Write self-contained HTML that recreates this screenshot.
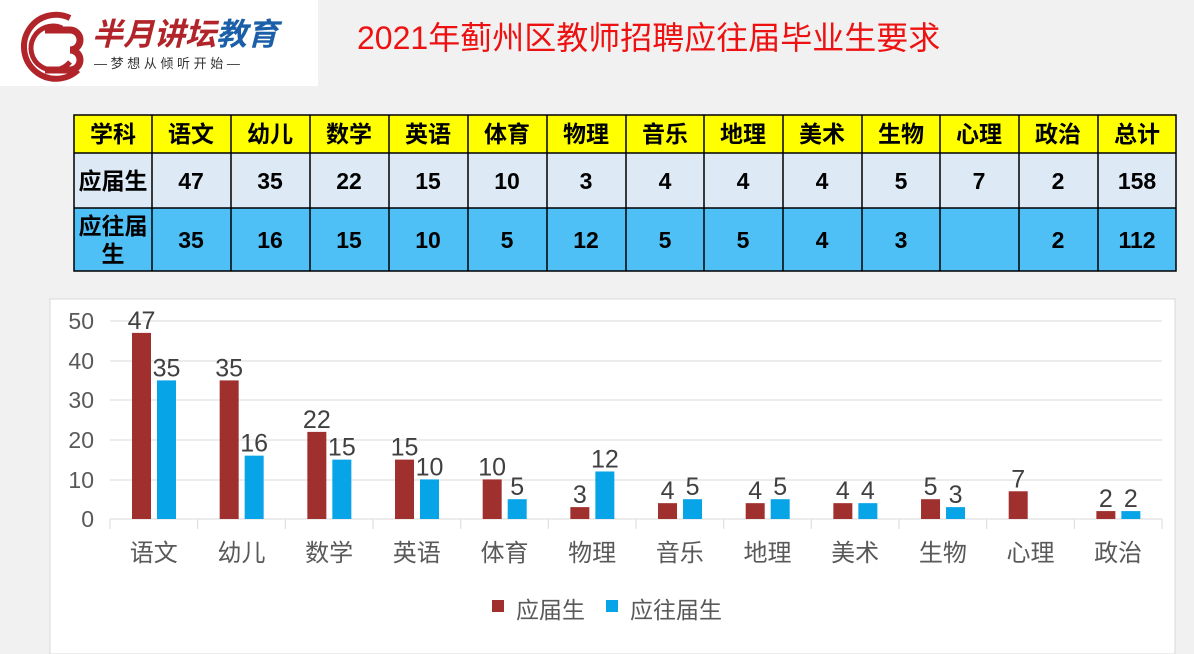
<!DOCTYPE html><html><head><meta charset="utf-8"><style>body{margin:0}svg{display:block}</style></head><body>
<svg width="1194" height="654" xmlns="http://www.w3.org/2000/svg" font-family="Liberation Sans, Noto Sans CJK SC, sans-serif">
<rect width="1194" height="654" fill="#f1f1f1"/>
<rect width="318" height="86" fill="#fff"/>
<g fill="none" stroke="#b0242a" stroke-width="6"><path d="M70 18 A32 32 0 1 0 78 70"/><path d="M62 28 A22 22 0 1 0 70 62" stroke-width="5"/></g>
<path d="M45 30 h25 a10 10 0 0 1 0 20 a10 10 0 0 1 0 20 h-25" fill="none" stroke="#b0242a" stroke-width="7"/>
<text x="92" y="45" font-size="31" font-weight="bold" font-style="italic" fill="#b0242a">半月讲坛<tspan fill="#1a5fa8">教育</tspan></text>
<text x="94" y="68" font-size="13" fill="#333">— 梦 想 从 倾 听 开 始 —</text>
<text x="357" y="49" font-size="32" fill="#ee1111">2021年蓟州区教师招聘应往届毕业生要求</text>
<g font-size="23" font-weight="bold" text-anchor="middle" fill="#000">
<rect x="74" y="115" width="1102" height="38" fill="#ffff00"/>
<rect x="74" y="153" width="1102" height="55" fill="#dde9f5"/>
<rect x="74" y="208" width="1102" height="63" fill="#4fc0f5"/>
<g stroke="#000" stroke-width="1.5" fill="none"><rect x="74" y="115" width="1102" height="156"/><line x1="74" y1="153" x2="1176" y2="153"/><line x1="74" y1="208" x2="1176" y2="208"/>
<path d="M152 115V271M231 115V271M310 115V271M389 115V271M468 115V271M547 115V271M626 115V271M704 115V271M783 115V271M862 115V271M940 115V271M1019 115V271M1098 115V271"/></g>
<text y="142"><tspan x="113">学科</tspan><tspan x="191">语文</tspan><tspan x="270">幼儿</tspan><tspan x="349">数学</tspan><tspan x="428">英语</tspan><tspan x="507">体育</tspan><tspan x="586">物理</tspan><tspan x="665">音乐</tspan><tspan x="743">地理</tspan><tspan x="822">美术</tspan><tspan x="901">生物</tspan><tspan x="979">心理</tspan><tspan x="1058">政治</tspan><tspan x="1137">总计</tspan></text>
<text y="189"><tspan x="113">应届生</tspan><tspan x="191">47</tspan><tspan x="270">35</tspan><tspan x="349">22</tspan><tspan x="428">15</tspan><tspan x="507">10</tspan><tspan x="586">3</tspan><tspan x="665">4</tspan><tspan x="743">4</tspan><tspan x="822">4</tspan><tspan x="901">5</tspan><tspan x="979">7</tspan><tspan x="1058">2</tspan><tspan x="1137">158</tspan></text>
<text x="113" y="234">应往届</text><text x="113" y="262">生</text>
<text y="248"><tspan x="191">35</tspan><tspan x="270">16</tspan><tspan x="349">15</tspan><tspan x="428">10</tspan><tspan x="507">5</tspan><tspan x="586">12</tspan><tspan x="665">5</tspan><tspan x="743">5</tspan><tspan x="822">4</tspan><tspan x="901">3</tspan><tspan x="1058">2</tspan><tspan x="1137">112</tspan></text>
</g>
<rect x="50" y="299" width="1125" height="355" fill="#fff" stroke="#d9d9d9"/>
<g stroke="#d9d9d9" stroke-width="1"><path d="M110 321H1162M110 361H1162M110 400H1162M110 440H1162M110 480H1162M110 519H1162"/>
<path d="M110 519v10M197.7 519v10M285.3 519v10M373 519v10M460.7 519v10M548.3 519v10M636 519v10M723.7 519v10M811.3 519v10M899 519v10M986.7 519v10M1074.3 519v10M1162 519v10"/></g>
<g font-size="23" fill="#595959" text-anchor="end"><text x="94" y="329">50</text><text x="94" y="369">40</text><text x="94" y="408">30</text><text x="94" y="448">20</text><text x="94" y="488">10</text><text x="94" y="527">0</text></g>
<g id="bars"></g>
<g font-size="24" fill="#595959" text-anchor="middle" id="cats"></g>
<g font-size="25" fill="#404040" text-anchor="middle" id="lbls"></g>
<rect x="492" y="600" width="12" height="12" fill="#a0302e"/><text x="516" y="618" font-size="23" fill="#595959">应届生</text>
<rect x="606" y="600" width="12" height="12" fill="#08a4e8"/><text x="630" y="618" font-size="23" fill="#595959">应往届生</text>
</svg>
<script>
var a=[47,35,22,15,10,3,4,4,4,5,7,2],b=[35,16,15,10,5,12,5,5,4,3,null,2],c="语文 幼儿 数学 英语 体育 物理 音乐 地理 美术 生物 心理 政治".split(" ");
var ns="http://www.w3.org/2000/svg";function el(p,t,o,s){var e=document.createElementNS(ns,t);for(var k in o)e.setAttribute(k,o[k]);if(s!=null)e.textContent=s;document.getElementById(p).appendChild(e);}
for(var i=0;i<12;i++){var x=110+i*87.67;
el("bars","rect",{x:x+22,y:519-a[i]*3.96,width:19,height:a[i]*3.96,fill:"#a0302e"});
el("lbls","text",{x:x+31.5,y:515-a[i]*3.96},a[i]);
if(b[i]!=null){el("bars","rect",{x:x+47,y:519-b[i]*3.96,width:19,height:b[i]*3.96,fill:"#08a4e8"});el("lbls","text",{x:x+56.5,y:515-b[i]*3.96},b[i]);}
el("cats","text",{x:x+43.8,y:561},c[i]);}
</script>
</body></html>
